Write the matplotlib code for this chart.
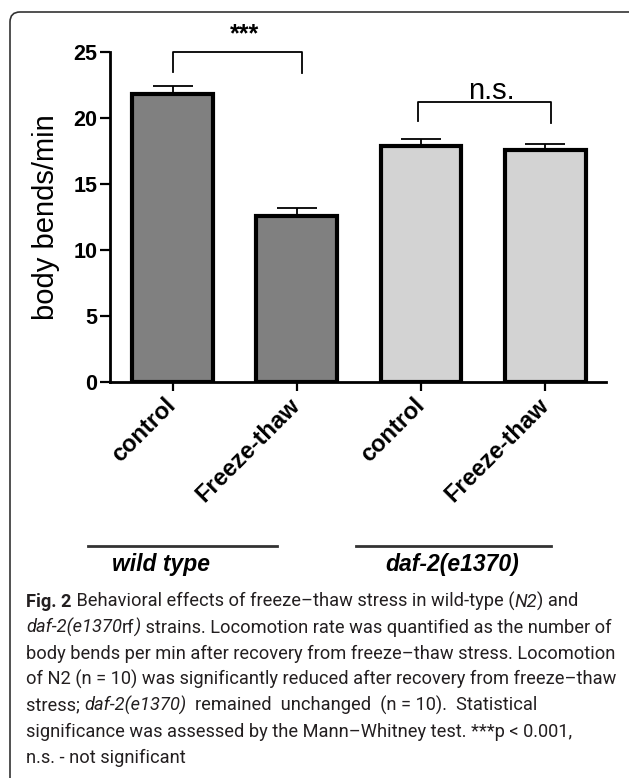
import matplotlib
matplotlib.use('Agg')
import matplotlib.pyplot as plt
import matplotlib.transforms as mtransforms
from matplotlib.patches import FancyBboxPatch
from matplotlib.font_manager import FontProperties

W, H = 629, 778

# data
conditions = ['control', 'Freeze-thaw', 'control', 'Freeze-thaw']
means = [21.8, 12.6, 17.9, 17.55]
sem = [0.6, 0.6, 0.5, 0.5]
bar_colors = ['#808080', '#808080', '#d3d3d3', '#d3d3d3']
yticks = [0, 5, 10, 15, 20, 25]

groups = ['wild type', 'daf-2(e1370)']
group_spans = [(-0.68, 0.84), (1.48, 3.05)]
group_label_x = [-0.09, 2.25]

# significance brackets: left/right x, top y, leg ends, label
sig_labels = ['***', 'n.s.']
sig_x = [(0.0, 1.04), (1.98, 3.05)]
sig_top = [25.0, 21.2]
sig_legs = [(23.5, 23.4), (19.75, 19.6)]

caption = [
    [('Fig. 2', 'bold'), (' Behavioral effects of freeze\u2013thaw stress in wild-type (', 'normal'),
     ('N2', 'italic'), (') and', 'normal')],
    [('daf-2(e1370', 'italic'), ('rf', 'normal'), (')', 'italic'),
     (' strains. Locomotion rate was quantified as the number of', 'normal')],
    [('body bends per min after recovery from freeze\u2013thaw stress. Locomotion', 'normal')],
    [('of N2 (n = 10) was significantly reduced after recovery from freeze\u2013thaw', 'normal')],
    [('stress; ', 'normal'), ('daf-2(e1370)', 'italic'),
     ('  remained  unchanged  (n = 10).  Statistical', 'normal')],
    [('significance was assessed by the Mann\u2013Whitney test. ***p < 0.001,', 'normal')],
    [('n.s. - not significant', 'normal')],
]

plt.rcParams['font.family'] = ['Liberation Sans', 'DejaVu Sans']

fig = plt.figure(figsize=(W / 100, H / 100), dpi=100)
ax = fig.add_axes([110 / W, 1 - 382 / H, 496 / W, 330 / H])
ax.patch.set_alpha(0)

x = list(range(len(means)))
ax.errorbar(x, means, yerr=[[0] * len(sem), sem], fmt='none', ecolor='black',
            elinewidth=1.3, capsize=14.5, capthick=1.3, zorder=1)
ax.bar(x, means, width=0.65, color=bar_colors, edgecolor='black', linewidth=3, zorder=2)

ax.set_xlim(-0.504, 3.49)
ax.set_ylim(0, 25)
ax.set_yticks(yticks)
ax.set_yticklabels([str(v) for v in yticks], fontsize=15.5, fontweight='bold')
ax.set_xticks(x)
ax.set_xticklabels(conditions, fontsize=17, fontweight='bold')
for lab in ax.get_xticklabels():
    lab.set_rotation(45)
    lab.set_ha('right')
    lab.set_va('center')
    lab.set_rotation_mode('anchor')
ax.tick_params(axis='y', length=7, width=1.6, pad=2)
ax.tick_params(axis='x', length=6.5, width=1.6, pad=8)
for side in ['top', 'right']:
    ax.spines[side].set_visible(False)
for side in ['left', 'bottom']:
    ax.spines[side].set_linewidth(2)

ax.set_ylabel('body bends/min', fontsize=21)
ax.yaxis.set_label_coords(-0.129, 0.5)
ax.yaxis.label.set_va('center')

# brackets
for (xl, xr), top, (ll, rl) in zip(sig_x, sig_top, sig_legs):
    ax.plot([xl, xl, xr, xr], [ll, top, top, rl], color='black', lw=1.3, clip_on=False)
ax.text(0.58, 26.35, sig_labels[0], ha='center', va='center', fontsize=18,
        fontweight='bold', clip_on=False)
ax.text(2.57, 22.05, sig_labels[1], ha='center', va='center', fontsize=21, clip_on=False)

# group lines under the tick labels
trans = mtransforms.blended_transform_factory(ax.transData, fig.transFigure)
for (a, b), gx, name in zip(group_spans, group_label_x, groups):
    ax.plot([a, b], [1 - 546 / H, 1 - 546 / H], transform=trans, color='#333333',
            lw=2, clip_on=False)
    ax.text(gx, 1 - 565 / H, name, transform=trans, ha='center', va='center',
            fontsize=16.5, fontweight='bold', fontstyle='italic', clip_on=False)
ax.set_xlim(-0.504, 3.49)
ax.set_ylim(0, 25)

# frame round the panel (right and bottom run off the picture)
box = FancyBboxPatch((10, -30), 632, H - 12 + 30, boxstyle='round,pad=0,rounding_size=10',
                     transform=mtransforms.IdentityTransform(), fill=False,
                     edgecolor='#333333', lw=1.2)
fig.add_artist(box)

# caption, fitted to the width of the third line
renderer = fig.canvas.get_renderer()
cap_family = ['Roboto', 'DejaVu Sans']


def run_width(s, style, size):
    fp = FontProperties(family=cap_family, size=size,
                        weight='bold' if style == 'bold' else 'normal',
                        style='italic' if style == 'italic' else 'normal')
    w1 = renderer.get_text_width_height_descent('|' + s + '|', fp, False)[0]
    w0 = renderer.get_text_width_height_descent('||', fp, False)[0]
    return w1 - w0


ref_w = sum(run_width(s, st, 10) for s, st in caption[2])
cap_size = 10 * 590 / ref_w

for i, line in enumerate(caption):
    xpos = 26
    ypos = 607 + 26 * i
    for s, st in line:
        fig.text(xpos / W, 1 - ypos / H, s, fontsize=cap_size, va='baseline', ha='left',
                 family=cap_family, color='#231f20',
                 fontweight='bold' if st == 'bold' else 'normal',
                 fontstyle='italic' if st == 'italic' else 'normal')
        xpos += run_width(s, st, cap_size)

fig.savefig('out.png', dpi=100)
